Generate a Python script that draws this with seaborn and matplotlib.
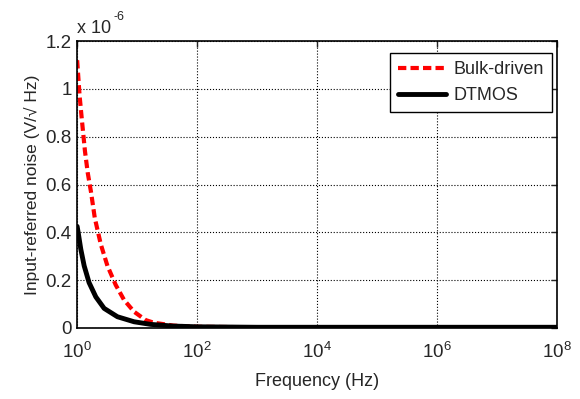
import pandas as pd
import seaborn as sns
import matplotlib.pyplot as plt

# Valores (ruído em unidades de 1e-6 V/sqrt(Hz))
freq_bulk = [1, 1.1, 1.2, 1.35, 1.5, 1.7, 1.97, 2.48, 3.2, 4.4, 6.07, 8.9, 13.9, 19, 40, 100, 1e3, 1e5, 1e8]
noise_bulk = [1.12, 0.97, 0.87, 0.74, 0.65, 0.57, 0.46, 0.35, 0.26, 0.18, 0.117, 0.068, 0.033, 0.022,
              0.010, 0.005, 0.003, 0.003, 0.003]

freq_dtmos = [1, 1.04, 1.15, 1.31, 1.58, 2.05, 2.82, 4.7, 8.9, 16.9, 40, 100, 1e3, 1e8]
noise_dtmos = [0.425, 0.40, 0.33, 0.26, 0.19, 0.13, 0.082, 0.047, 0.026, 0.015, 0.008, 0.005, 0.003, 0.003]

series_names = ["Bulk-driven", "DTMOS"]
y_ticks = [0, 0.2, 0.4, 0.6, 0.8, 1.0, 1.2]
x_ticks = [1e0, 1e2, 1e4, 1e6, 1e8]

df_bulk = pd.DataFrame({"freq": freq_bulk, "noise": noise_bulk})
df_dtmos = pd.DataFrame({"freq": freq_dtmos, "noise": noise_dtmos})

sns.set_style("white")
plt.rcParams["font.family"] = ["Liberation Sans", "DejaVu Sans"]
plt.rcParams["mathtext.fontset"] = "custom"
plt.rcParams["mathtext.rm"] = "Liberation Sans"
plt.rcParams["mathtext.it"] = "Liberation Sans:italic"

fig = plt.figure(figsize=(5.8, 3.99), dpi=100)
ax = fig.add_axes([0.133, 0.178, 0.827, 0.719])
ax.set_xscale("log")

# Curvas
sns.lineplot(data=df_bulk, x="freq", y="noise", color="#ff0000", linewidth=3,
             dashes=False, ax=ax, sort=False, label=series_names[0])
sns.lineplot(data=df_dtmos, x="freq", y="noise", color="black", linewidth=3.5,
             ax=ax, sort=False, label=series_names[1])
ax.lines[0].set_dashes((2, 1))

ax.set_xlim(1, 1e8)
ax.set_ylim(0, 1.2)
ax.set_xticks(x_ticks)
ax.minorticks_off()
ax.set_yticks(y_ticks)
ax.set_yticklabels(["%g" % v for v in y_ticks])

ax.grid(True, color="black", linestyle=":", linewidth=0.8)
ax.tick_params(direction="in", top=True, right=True, labelsize=13.5, length=4, width=1)
ax.tick_params(axis="x", pad=10)
ax.tick_params(axis="y", pad=4)
for s in ax.spines.values():
    s.set_linewidth(1.2)
    s.set_color("black")

ax.set_xlabel("Frequency (Hz)", fontsize=13, labelpad=8)
ax.set_ylabel("Input-referred noise (V/√ Hz)", fontsize=12.5, labelpad=4)

# Fator de escala no topo
ax.text(0.0, 1.028, "x 10", transform=ax.transAxes, fontsize=13, va="baseline", ha="left")
ax.text(0.075, 1.073, "-6", transform=ax.transAxes, fontsize=9, va="baseline", ha="left")

leg = ax.legend(loc="upper right", fontsize=13, frameon=True, fancybox=False,
                edgecolor="black", framealpha=1, handlelength=2.65, handletextpad=0.4,
                labelspacing=0.5, borderpad=0.45, borderaxespad=0,
                bbox_to_anchor=(0.9896, 0.959))
leg.get_frame().set_linewidth(1.0)

fig.savefig("out.png", dpi=100)
